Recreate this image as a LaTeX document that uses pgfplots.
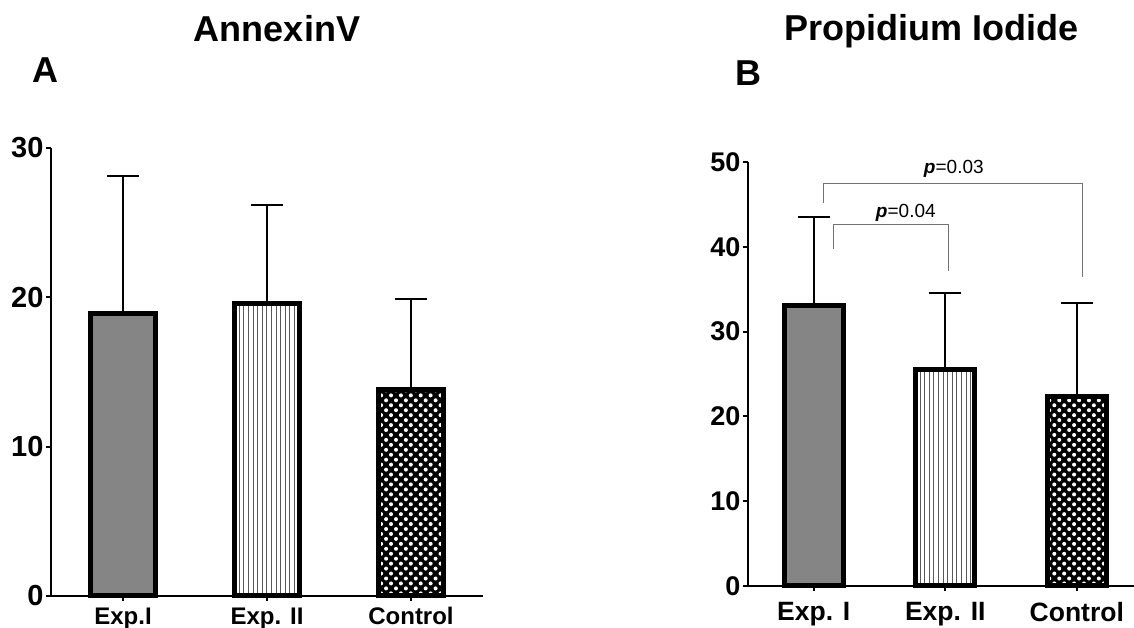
\documentclass[border=0pt]{standalone}
\usepackage{pgfplots}
\pgfplotsset{compat=1.18}
\usepackage{fontspec}
\setmainfont{Liberation Sans}
\usetikzlibrary{patterns.meta}

\pgfplotsset{
  panel/.style={
    scale only axis,
    ybar, bar width=0.45, bar shift=0pt,
    axis x line=bottom, axis y line=left,
    axis line style={-, line width=2pt, black},
    tick align=outside,
    major tick length=5pt,
    tick style={line width=2pt, black},
    xtick={0,1,2},
    xmin=-0.5, ymin=0,
    /pgf/number format/assume math mode=true,
    clip=false,
    error bars/y dir=plus, error bars/y explicit,
    error bars/error bar style={line width=2pt, black},
    error bars/error mark options={rotate=90, mark size=16pt, line width=2pt, black},
  },
  barI/.style={draw=black, line width=5pt, fill=black!48},
  barII/.style={draw=black, line width=5pt, fill=white,
    postaction={pattern={Lines[angle=90,distance=4.6pt,line width=0.9pt]}, pattern color=black!65}},
  barC/.style={draw=black, line width=5pt, preaction={fill=black},
    pattern={Dots[angle=45,distance=7pt,radius=2pt]}, pattern color=white},
}

\begin{document}
\begin{tikzpicture}
\useasboundingbox (0,0) rectangle (1134pt,628pt);

% panel A
\begin{axis}[panel,
  at={(51pt,32pt)}, anchor=south west,
  width=432pt, height=448pt,
  xmax=2.5, ymax=30,
  ytick={0,10,20,30}, yticklabels={0,10,20,30},
  xticklabels={Exp.I, Exp. II, Control},
  yticklabel style={font=\fontsize{29}{29}\selectfont\bfseries, xshift=1pt},
  xticklabel style={font=\fontsize{24}{24}\selectfont\bfseries, yshift=-3pt},
]
\addplot[barI] coordinates {(0,18.9) +- (0,9.2)};
\addplot[barII] coordinates {(1,19.6) +- (0,6.6)};
\addplot[barC] coordinates {(2,13.8) +- (0,6.1)};
\end{axis}

% panel B
\begin{axis}[panel,
  at={(748pt,42pt)}, anchor=south west,
  width=386pt, height=424pt,
  xmax=2.435, ymax=50,
  ytick={0,10,20,30,40,50}, yticklabels={0,10,20,30,40,50},
  xticklabels={Exp. I, Exp. II, Control},
  yticklabel style={font=\fontsize{27}{27}\selectfont\bfseries, xshift=1pt},
  xticklabel style={font=\fontsize{26.5}{26.5}\selectfont\bfseries, yshift=-8pt},
]
\addplot[barI] coordinates {(0,33.1) +- (0,10.4)};
\addplot[barII] coordinates {(1,25.5) +- (0,9.1)};
\addplot[barC] coordinates {(2,22.3) +- (0,11.1)};
\draw[black!55, line width=1pt] (axis cs:0.076,45.2) -- (axis cs:0.076,47.5)
  -- (axis cs:2.046,47.5) -- (axis cs:2.046,36.4);
\draw[black!55, line width=1pt] (axis cs:0.152,39.7) -- (axis cs:0.152,42.6)
  -- (axis cs:1.027,42.6) -- (axis cs:1.027,37.1);
\node[anchor=base, font=\fontsize{19}{19}\selectfont] at (axis cs:1.065,48.7)
  {\textbf{\textit{p}}=0.03};
\node[anchor=base, font=\fontsize{19}{19}\selectfont] at (axis cs:0.70,43.5)
  {\textbf{\textit{p}}=0.04};
\end{axis}

% titles and panel letters
\node[anchor=base, font=\fontsize{36}{36}\selectfont\bfseries] at (277pt,586pt) {AnnexinV};
\node[anchor=base, font=\fontsize{36}{36}\selectfont\bfseries] at (931pt,587pt) {Propidium Iodide};
\node[anchor=base west, inner sep=0pt, font=\fontsize{36}{36}\selectfont\bfseries] at (32pt,545pt) {A};
\node[anchor=base west, inner sep=0pt, font=\fontsize{36}{36}\selectfont\bfseries] at (735pt,542pt) {B};
\end{tikzpicture}
\end{document}
